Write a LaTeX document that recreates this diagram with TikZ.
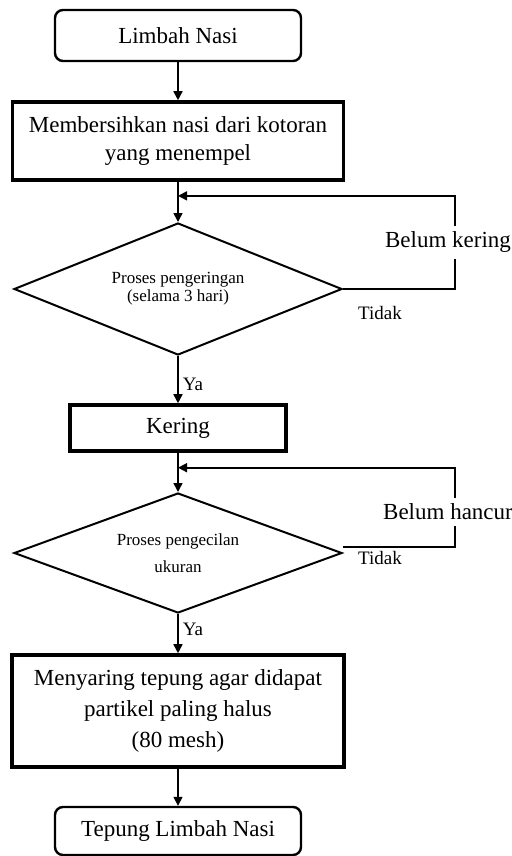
\documentclass[tikz,border=0pt]{standalone}
\usepackage{fontspec}
\setmainfont{Liberation Serif}
\usetikzlibrary{positioning, shapes.geometric, arrows.meta, calc}

\begin{document}
\begin{tikzpicture}[
  x=0.5pt, y=-0.5pt,
  font=\fontsize{11.5}{14}\selectfont,
  terminal/.style={draw, rounded corners=4pt, line width=1.2pt, minimum width=123pt, minimum height=25.5pt, align=center},
  process/.style={draw, line width=1.8pt, inner sep=0pt, align=center},
  decision/.style={diamond, draw, line width=1pt, aspect=2.5, inner sep=0pt, minimum width=164pt, align=center, font=\fontsize{8.5}{9}\selectfont},
  arrow/.style={-{Triangle[length=4.5pt, width=4.5pt]}, line width=0.8pt},
  answer/.style={font=\fontsize{9.5}{11}\selectfont, inner sep=2pt},
  looplabel/.style={fill=white, inner sep=3pt, xshift=-3.5pt}
]
\useasboundingbox (0,0) rectangle (512,856);

% --- main flow ---
\node[terminal] (start) at (178,35.5) {Limbah Nasi};
\node[process, minimum width=165.5pt, minimum height=39pt] (clean) at (178,141) {Membersihkan nasi dari kotoran\\yang menempel};
\node[decision, minimum height=66pt] (dry) at (178,289) {Proses pengeringan\\(selama 3 hari)};
\node[process, minimum width=108pt, minimum height=23pt] (kering) at (178,428) {Kering};
\node[decision, minimum height=60pt, font=\fontsize{8.5}{13.5}\selectfont] (grind) at (178,553) {Proses pengecilan\\ukuran};
\node[process, minimum width=166pt, minimum height=56pt, font=\fontsize{11.5}{15.5}\selectfont] (sieve) at (178,711) {Menyaring tepung agar didapat\\partikel paling halus\\(80 mesh)};
\node[terminal, minimum height=24pt] (finish) at (178,831) {Tepung Limbah Nasi};

\draw[arrow] (start) -- (clean);
\draw[arrow] (clean) -- (dry);
\draw[arrow] (dry) -- node[answer, right, pos=0.6] {Ya} (kering);
\draw[arrow] (kering) -- (grind);
\draw[arrow] (grind) -- node[answer, right, pos=0.4] {Ya} (sieve);
\draw[arrow] (sieve) -- (finish);

% --- loops back ---
\coordinate (j1) at ($(clean.south)!0.35!(dry.north)$);
\draw[arrow] (dry.east) -- ++(112,0) |- node[looplabel, pos=0.25] {Belum kering} (j1);
\node[answer] (tidak1) at (380,313) {Tidak};

\coordinate (j2) at ($(kering.south)!0.38!(grind.north)$);
\draw[arrow] ([yshift=3pt]grind.east) -- ++(112,0) |- node[looplabel, pos=0.22] {Belum hancur} (j2);
\node[answer] (tidak2) at (380,558) {Tidak};

\end{tikzpicture}
\end{document}
